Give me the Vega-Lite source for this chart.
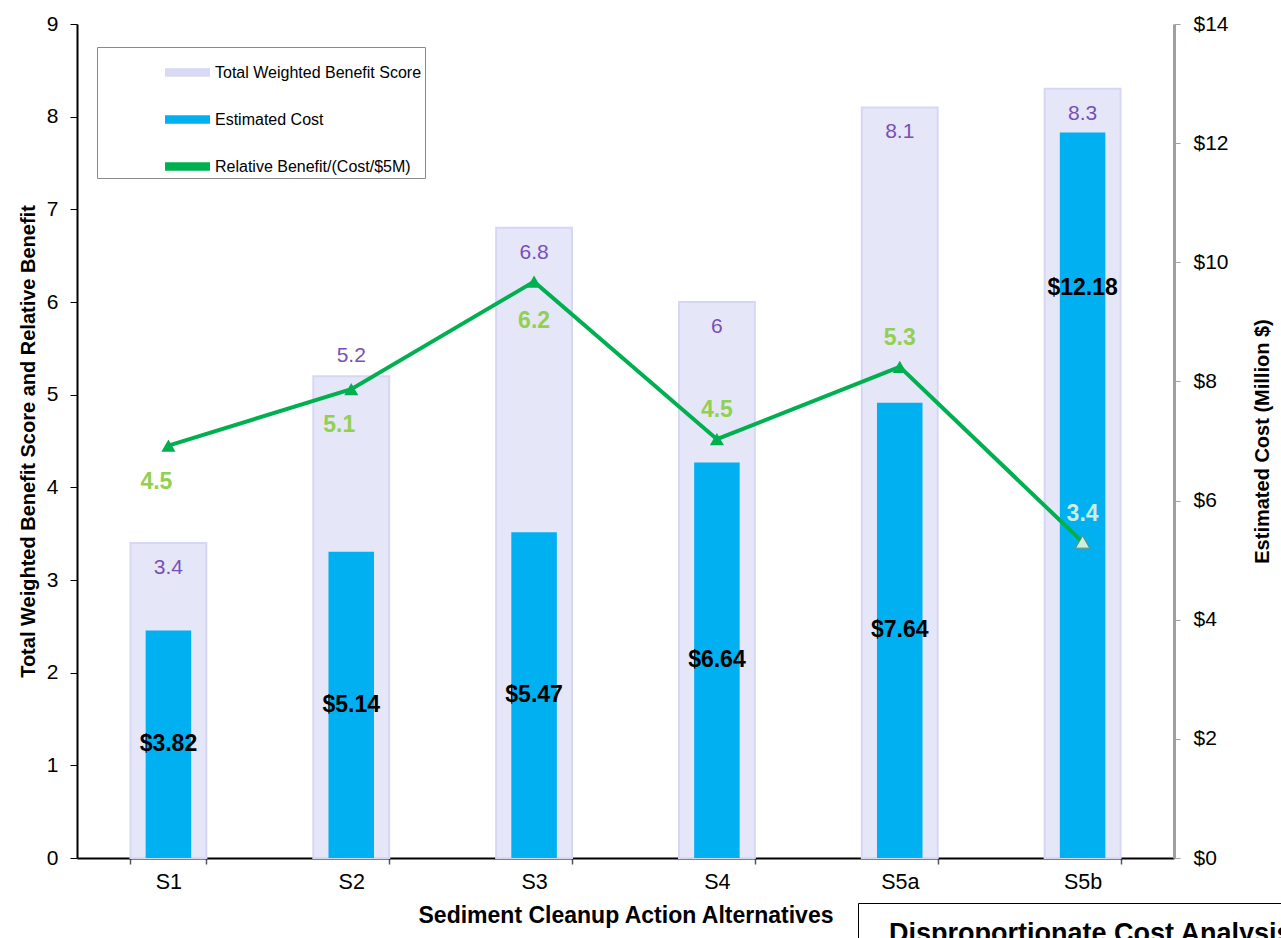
{
  "$schema": "https://vega.github.io/schema/vega-lite/v6.json",
  "width": 1097,
  "height": 834,
  "autosize": "none",
  "padding": {"left": 77, "top": 24, "right": 107, "bottom": 80},
  "config": {
    "font": "Liberation Sans",
    "view": {"stroke": null},
    "axis": {"labelFont": "Liberation Sans", "titleFont": "Liberation Sans", "labelColor": "#000", "titleColor": "#000"}
  },
  "data": {
    "values": [
      {"alt": "S1", "benefit": 3.4, "cost": 3.82, "rel": 4.45, "relLabel": "4.5"},
      {"alt": "S2", "benefit": 5.2, "cost": 5.14, "rel": 5.06, "relLabel": "5.1"},
      {"alt": "S3", "benefit": 6.8, "cost": 5.47, "rel": 6.22, "relLabel": "6.2"},
      {"alt": "S4", "benefit": 6.0, "cost": 6.64, "rel": 4.52, "relLabel": "4.5"},
      {"alt": "S5a", "benefit": 8.1, "cost": 7.64, "rel": 5.30, "relLabel": "5.3"},
      {"alt": "S5b", "benefit": 8.3, "cost": 12.18, "rel": 3.41, "relLabel": "3.4"}
    ]
  },
  "encoding": {
    "x": {
      "field": "alt",
      "type": "nominal",
      "sort": null,
      "scale": {"paddingInner": 0.585, "paddingOuter": 0.2925},
      "axis": {
        "title": "Sediment Cleanup Action Alternatives",
        "titleFontSize": 23,
        "titleFontWeight": "bold",
        "titlePadding": 12,
        "labelFontSize": 21.5,
        "labelAngle": 0,
        "labelPadding": 7,
        "domainColor": "#000",
        "domainWidth": 2,
        "tickColor": "#555",
        "tickWidth": 1.5,
        "tickSize": 6,
        "tickBand": "extent"
      }
    }
  },
  "layer": [
    {
      "layer": [
        {
          "mark": {"type": "bar", "fill": "#e6e6f9", "stroke": "#d6d6f5", "strokeWidth": 2},
          "encoding": {
            "y": {
              "field": "benefit",
              "type": "quantitative",
              "scale": {"domain": [0, 9], "nice": false},
              "axis": {
                "title": "Total Weighted Benefit Score and Relative Benefit",
                "titleFontSize": 20,
                "titleFontWeight": "bold",
                "titlePadding": 8,
                "values": [0, 1, 2, 3, 4, 5, 6, 7, 8, 9],
                "format": "d",
                "labelFontSize": 21,
                "labelPadding": 12,
                "domainColor": "#000",
                "domainWidth": 2,
                "tickColor": "#000",
                "tickSize": 7,
                "grid": false
              }
            },
            "color": {
              "datum": "Total Weighted Benefit Score",
              "scale": {
                "domain": ["Total Weighted Benefit Score", "Estimated Cost", "Relative Benefit/(Cost/$5M)"],
                "range": ["#d9d9f5", "#00b0f0", "#00b050"]
              },
              "legend": {
                "orient": "none",
                "legendX": 20,
                "legendY": 23,
                "title": null,
                "strokeColor": "#8a8a8a",
                "fillColor": "#fff",
                "padding": 3,
                "rowPadding": 16,
                "symbolSize": 2025,
                "symbolType": "M-1,-0.19H1V0.19H-1Z",
                "symbolStrokeWidth": 0,
                "symbolOffset": 65,
                "labelOffset": 5,
                "labelFontSize": 16,
                "labelFont": "Liberation Sans",
                "labelColor": "#000",
                "labelLimit": 500,
                "encode": {"legend": {"strokeWidth": {"value": 2}}}
              }
            },
            "strokeDash": {
              "datum": "box",
              "scale": {"range": [[1, 0]]},
              "legend": {
                "orient": "none",
                "legendX": 781,
                "legendY": 879,
                "title": "Disproportionate Cost Analysis",
                "titleFontSize": 27,
                "titleFontWeight": "bold",
                "titleFont": "Liberation Sans",
                "titleColor": "#000",
                "titleLimit": 2000,
                "titleBaseline": "middle",
                "strokeColor": "#000",
                "fillColor": "#fff",
                "padding": 31,
                "symbolOpacity": 0,
                "labelExpr": "' '",
                "labelFontSize": 12,
                "encode": {"legend": {"strokeWidth": {"value": 2}}}
              }
            }
          }
        },
        {
          "transform": [{"filter": "datum.alt !== 'S2'"}],
          "mark": {"type": "text", "fontSize": 21, "color": "#7a4fb5", "baseline": "middle", "dy": 25},
          "encoding": {
            "y": {"field": "benefit", "type": "quantitative", "scale": {"domain": [0, 9], "nice": false}},
            "text": {"field": "benefit", "type": "quantitative", "format": "~g"}
          }
        },
        {
          "transform": [{"filter": "datum.alt === 'S2'"}],
          "mark": {"type": "text", "fontSize": 21, "color": "#7a4fb5", "baseline": "middle", "dy": -20},
          "encoding": {
            "y": {"field": "benefit", "type": "quantitative", "scale": {"domain": [0, 9], "nice": false}},
            "text": {"field": "benefit", "type": "quantitative", "format": "~g"}
          }
        }
      ]
    },
    {
      "layer": [
        {
          "mark": {"type": "bar", "fill": "#00b0f0", "width": {"band": 0.6}},
          "encoding": {
            "y": {
              "field": "cost",
              "type": "quantitative",
              "scale": {"domain": [0, 14], "nice": false},
              "axis": {
                "orient": "right",
                "title": "Estimated Cost (Million $)",
                "titleFontSize": 20,
                "titleFontWeight": "bold",
                "titleAngle": 270,
                "titlePadding": 44,
                "values": [0, 2, 4, 6, 8, 10, 12, 14],
                "labelExpr": "'$' + datum.value",
                "labelFontSize": 21,
                "labelPadding": 13,
                "domainColor": "#a0a0a0",
                "domainWidth": 3,
                "tickColor": "#a0a0a0",
                "tickSize": 6,
                "grid": false
              }
            },
            "color": {"datum": "Estimated Cost"}
          }
        },
        {
          "transform": [{"calculate": "datum.cost / 2", "as": "mid"}, {"filter": "datum.alt !== 'S5b'"}],
          "mark": {"type": "text", "fontSize": 23, "fontWeight": "bold", "color": "#000", "baseline": "middle"},
          "encoding": {
            "y": {"field": "mid", "type": "quantitative", "scale": {"domain": [0, 14], "nice": false}},
            "text": {"field": "cost", "type": "quantitative", "format": "$.2f"}
          }
        },
        {
          "transform": [{"filter": "datum.alt === 'S5b'"}],
          "mark": {"type": "text", "fontSize": 23, "fontWeight": "bold", "color": "#000", "baseline": "middle", "dy": 156},
          "encoding": {
            "y": {"field": "cost", "type": "quantitative", "scale": {"domain": [0, 14], "nice": false}},
            "text": {"field": "cost", "type": "quantitative", "format": "$.2f"}
          }
        }
      ]
    },
    {
      "layer": [
        {
          "mark": {"type": "line", "strokeWidth": 4, "point": {"shape": "triangle-up", "size": 200, "filled": true, "opacity": 1}},
          "encoding": {
            "y": {"field": "rel", "type": "quantitative", "scale": {"domain": [0, 9], "nice": false}, "axis": null},
            "color": {"datum": "Relative Benefit/(Cost/$5M)"}
          }
        },
        {
          "transform": [{"filter": "datum.alt === 'S5b'"}],
          "mark": {"type": "point", "shape": "triangle-up", "size": 200, "filled": true, "fill": "#cdeedc", "stroke": "#5f8f74", "strokeWidth": 1, "opacity": 1},
          "encoding": {
            "y": {"field": "rel", "type": "quantitative", "scale": {"domain": [0, 9], "nice": false}, "axis": null}
          }
        },
        {
          "transform": [{"filter": {"field": "alt", "oneOf": ["S1", "S2"]}}],
          "mark": {"type": "text", "fontSize": 23, "fontWeight": "bold", "color": "#92d050", "baseline": "middle", "dy": 36, "dx": -12},
          "encoding": {
            "y": {"field": "rel", "type": "quantitative", "scale": {"domain": [0, 9], "nice": false}, "axis": null},
            "text": {"field": "relLabel", "type": "nominal"}
          }
        },
        {
          "transform": [{"filter": "datum.alt === 'S3'"}],
          "mark": {"type": "text", "fontSize": 23, "fontWeight": "bold", "color": "#92d050", "baseline": "middle", "dy": 39},
          "encoding": {
            "y": {"field": "rel", "type": "quantitative", "scale": {"domain": [0, 9], "nice": false}, "axis": null},
            "text": {"field": "relLabel", "type": "nominal"}
          }
        },
        {
          "transform": [{"filter": {"field": "alt", "oneOf": ["S4", "S5a"]}}],
          "mark": {"type": "text", "fontSize": 23, "fontWeight": "bold", "color": "#92d050", "baseline": "middle", "dy": -29},
          "encoding": {
            "y": {"field": "rel", "type": "quantitative", "scale": {"domain": [0, 9], "nice": false}, "axis": null},
            "text": {"field": "relLabel", "type": "nominal"}
          }
        },
        {
          "transform": [{"filter": "datum.alt === 'S5b'"}],
          "mark": {"type": "text", "fontSize": 23, "fontWeight": "bold", "color": "#cdeedc", "baseline": "middle", "dy": -28},
          "encoding": {
            "y": {"field": "rel", "type": "quantitative", "scale": {"domain": [0, 9], "nice": false}, "axis": null},
            "text": {"field": "relLabel", "type": "nominal"}
          }
        }
      ]
    }
  ],
  "resolve": {"scale": {"y": "independent"}}
}
